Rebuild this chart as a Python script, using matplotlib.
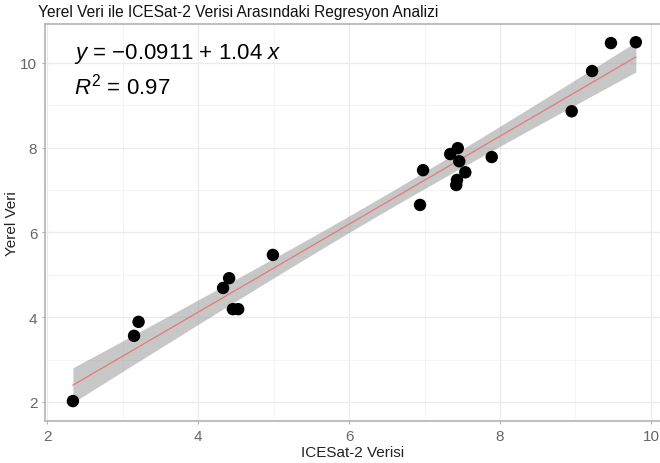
import numpy as np
import matplotlib
matplotlib.use('Agg')
import matplotlib.pyplot as plt

plt.rcParams['font.family'] = ['Liberation Sans', 'DejaVu Sans']
plt.rcParams['mathtext.fontset'] = 'custom'
plt.rcParams['mathtext.rm'] = 'Liberation Sans'
plt.rcParams['mathtext.it'] = 'Liberation Sans:italic'

# values
icesat = [2.34, 3.15, 3.21, 4.33, 4.41, 4.46, 4.53, 4.99, 6.94, 6.98, 7.34,
          7.44, 7.46, 7.54, 7.43, 7.42, 7.89, 8.95, 9.22, 9.47, 9.80]
yerel = [2.02, 3.56, 3.89, 4.69, 4.92, 4.19, 4.19, 5.47, 6.65, 7.47, 7.85,
         7.99, 7.68, 7.42, 7.24, 7.12, 7.78, 8.86, 9.81, 10.47, 10.49]
xticks = [2, 4, 6, 8, 10]
yticks = [2, 4, 6, 8, 10]
title = 'Yerel Veri ile ICESat-2 Verisi Arasındaki Regresyon Analizi'
eq_text = r'$y$ = $-$0.0911 + 1.04 $x$'
r2_text = r'$R^2$ = 0.97'

x = np.array(icesat)
y = np.array(yerel)
n = len(x)

# linear fit with 95% confidence band (like geom_smooth(method='lm'))
slope, intercept = np.polyfit(x, y, 1)
resid = y - (intercept + slope * x)
s = np.sqrt(np.sum(resid ** 2) / (n - 2))
sxx = np.sum((x - x.mean()) ** 2)
t_crit = 2.093  # t(0.975, df=19)
xs = np.linspace(x.min(), x.max(), 100)
fit = intercept + slope * xs
se = s * np.sqrt(1 / n + (xs - x.mean()) ** 2 / sxx)

fig = plt.figure(figsize=(6.6, 4.64), dpi=100)
ax = fig.add_axes([45 / 660, 42 / 464, 1 - 45 / 660, (422 - 25) / 464])

ax.fill_between(xs, fit - t_crit * se, fit + t_crit * se, color='#999999', alpha=0.55, lw=0, zorder=2)
ax.plot(xs, fit, color='#e8787a', lw=0.9, zorder=3)
ax.scatter(x, y, s=80, color='black', edgecolors='none', zorder=4)

ax.set_xlim(1.97, 10.12)
ax.set_ylim(1.55, 10.92)
ax.set_xticks(xticks)
ax.set_yticks(yticks)
ax.set_xticks([3, 5, 7, 9], minor=True)
ax.set_yticks([3, 5, 7, 9], minor=True)
ax.grid(True, which='major', color='#ebebeb', lw=0.9, zorder=0)
ax.grid(True, which='minor', color='#f3f3f3', lw=0.6, zorder=0)
ax.set_axisbelow(True)
ax.tick_params(which='both', length=2, color='#b3b3b3', labelcolor='#666666', labelsize=11)
ax.tick_params(which='minor', length=0)
for side in ['top', 'left', 'bottom']:
    ax.spines[side].set_color('#b3b3b3')
    ax.spines[side].set_linewidth(1.2)
ax.spines['right'].set_visible(False)

ax.set_xlabel('ICESat-2 Verisi', fontsize=11, color='#222222', labelpad=2)
ax.set_ylabel('Yerel Veri', fontsize=11, color='#222222', labelpad=1)

ax.text(0.047, 0.927, eq_text, transform=ax.transAxes, fontsize=16, va='center', ha='left')
ax.text(0.047, 0.845, r2_text, transform=ax.transAxes, fontsize=16, va='center', ha='left')

fig.text(38 / 660, 1 - 12 / 464, title, fontsize=11.2, ha='left', va='center', color='#111111')

fig.savefig('out.png', dpi=100)
